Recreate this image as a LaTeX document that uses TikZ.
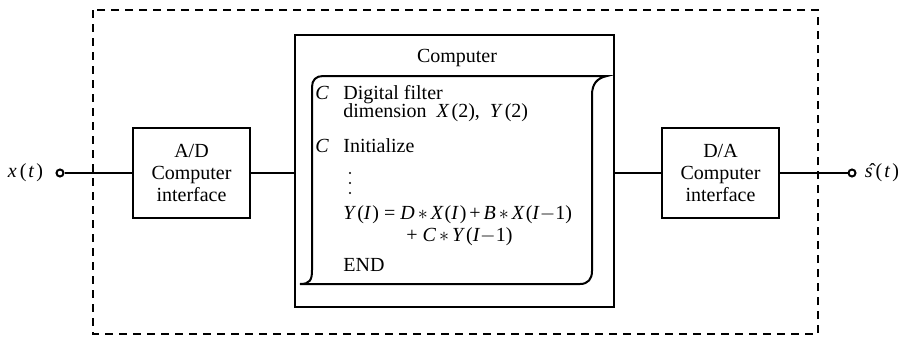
\documentclass[tikz,border=0pt]{standalone}
\usepackage{fontspec}
\setmainfont{Liberation Serif}
\usetikzlibrary{positioning}
\newcommand{\vi}[1]{\textit{#1}}
\newcommand{\mul}{\kern1.5pt$\ast$\kern1.5pt}
\newcommand{\pls}{\kern1.5pt+\kern1.5pt}

\begin{document}
\begin{tikzpicture}[x=0.5pt, y=-0.5pt,
  block/.style={draw, line width=1pt, minimum width=58.5pt, minimum height=45pt,
                inner sep=0pt, align=center, font=\fontsize{10}{11}\selectfont},
  term/.style={circle, draw, line width=1pt, inner sep=0pt, minimum size=3.5pt},
  code/.style={anchor=base west, inner sep=0pt, font=\fontsize{10}{11}\selectfont},
  wire/.style={line width=1pt},
]
  \useasboundingbox (0,0) rectangle (908,337);
  \draw[dash pattern=on 4pt off 3pt, line width=0.6pt] (93,10) rectangle (818,334);
  \node[block] (ad) at (191.5,173) {A/D\\Computer\\interface};
  \node[block, minimum width=159.5pt, minimum height=136pt] (comp) at (454.5,171) {};
  \node[block] (da) at (720.5,173) {D/A\\Computer\\interface};
  \node[term] (xin) at (60,173) {};
  \node[term] (sout) at (852,173) {};
  \node[left=6pt of xin, inner sep=0pt, font=\fontsize{10}{11}\selectfont] (xlbl) {\vi{x}\kern1.5pt(\kern1pt\vi{t}\kern1pt)};
  \node[right=4pt of sout, inner sep=0pt, font=\fontsize{10}{11}\selectfont] (slbl) {\^{\vi{s}}\kern1.5pt(\kern1pt\vi{t}\kern1pt)};
  \draw[wire] (xin) -- (ad);
  \draw[wire] (ad.east) -- (ad.east -| comp.west);
  \draw[wire] (da.west -| comp.east) -- (da.west);
  \draw[wire] (da) -- (sout);
  \node[font=\fontsize{10}{11}\selectfont] (title) at (457,58) {Computer};
  \draw[line width=1pt] (300,284) .. controls (310,284) and (312,280) .. (312,270)
    -- (312,87) .. controls (312,80) and (316,76) .. (323,76) -- (607,76)
    .. controls (597,78) and (592,84) .. (592,95) -- (592,271)
    .. controls (592,279) and (588,284) .. (580,284) -- cycle;
  \node[code] (c1) at (315,99) {\vi{C}};
  \node[code] (l1) at (343,99) {Digital filter};
  \node[code] (l2) at (343,117) {dimension\ \ \vi{X}\kern1pt(2),\ \ \vi{Y}\kern1pt(2)};
  \node[code] (c2) at (315,152) {\vi{C}};
  \node[code] (l3) at (343,152) {Initialize};
  \foreach \y in {173,183,193}
    \fill (350,\y) circle (0.6pt);
  \node[code] (l4) at (343,219) {\vi{Y}\kern0.5pt(\vi{I}\kern0.5pt) = \vi{D}\mul\vi{X}\kern0.5pt(\vi{I}\kern0.5pt)\pls\vi{B}\mul\vi{X}\kern0.5pt(\vi{I}$-$1)};
  \node[code] (l5) at (406,241) {+ \vi{C}\mul\vi{Y}\kern0.5pt(\vi{I}$-$1)};
  \node[code] (l6) at (343,271) {END};
\end{tikzpicture}
\end{document}
